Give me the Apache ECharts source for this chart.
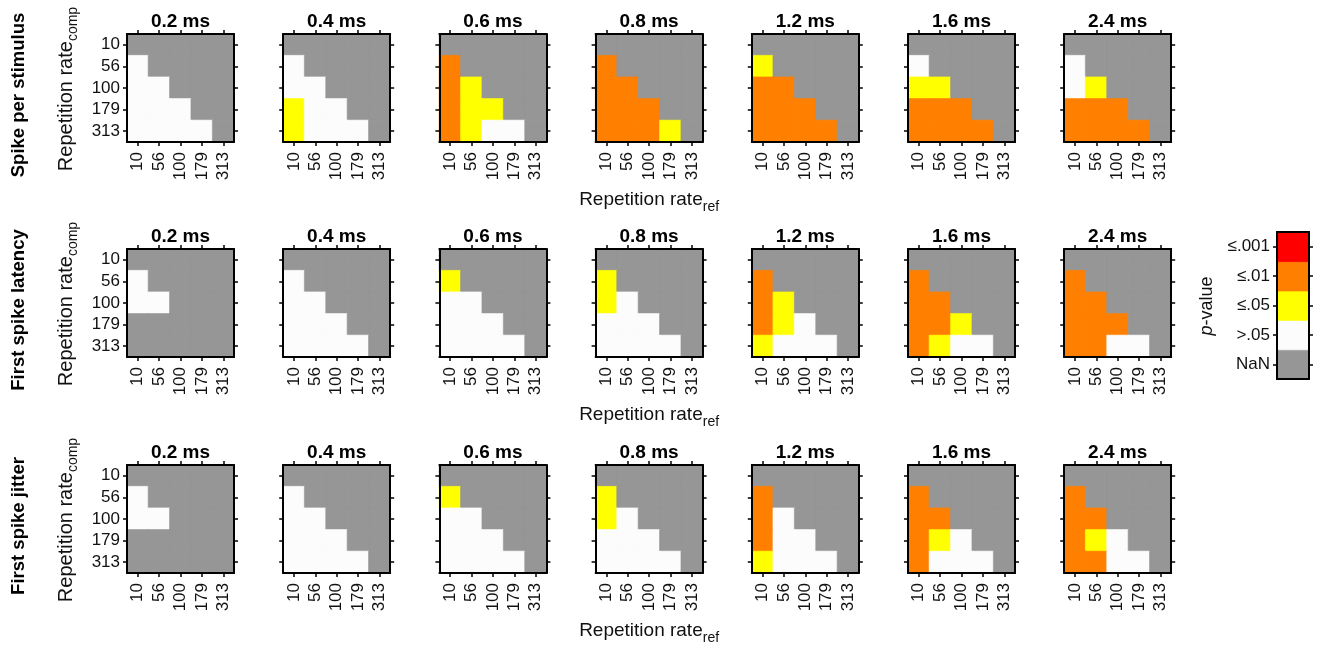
<!DOCTYPE html>
<html>
<head>
<meta charset="utf-8">
<script src="https://cdn.jsdelivr.net/npm/echarts@6/dist/echarts.min.js"></script>
<style>
  html, body { margin: 0; padding: 0; background: #fff; }
  #chart { width: 1318px; height: 647px; }
</style>
</head>
<body>
<div id="chart"></div>
<script>
const rates = ['10', '56', '100', '179', '313']
const durations = ['0.2 ms', '0.4 ms', '0.6 ms', '0.8 ms', '1.2 ms', '1.6 ms', '2.4 ms']
const measures = ['Spike per stimulus', 'First spike latency', 'First spike jitter']
// p-value class: 0 NaN, 1 >.05, 2 ≤.05, 3 ≤.01, 4 ≤.001
const pLevels = ['NaN', '>.05', '≤.05', '≤.01', '≤.001']
const pColors = ['#969696', '#fcfcfc', '#ffff00', '#ff8000', '#ff0000']

// each matrix: rows = rate comp (10 at top), cols = rate ref (10 at left)
const spikePerStimulus = [
  [[0,0,0,0,0],[1,0,0,0,0],[1,1,0,0,0],[1,1,1,0,0],[1,1,1,1,0]],
  [[0,0,0,0,0],[1,0,0,0,0],[1,1,0,0,0],[2,1,1,0,0],[2,1,1,1,0]],
  [[0,0,0,0,0],[3,0,0,0,0],[3,2,0,0,0],[3,2,2,0,0],[3,2,1,1,0]],
  [[0,0,0,0,0],[3,0,0,0,0],[3,3,0,0,0],[3,3,3,0,0],[3,3,3,2,0]],
  [[0,0,0,0,0],[2,0,0,0,0],[3,3,0,0,0],[3,3,3,0,0],[3,3,3,3,0]],
  [[0,0,0,0,0],[1,0,0,0,0],[2,2,0,0,0],[3,3,3,0,0],[3,3,3,3,0]],
  [[0,0,0,0,0],[1,0,0,0,0],[1,2,0,0,0],[3,3,3,0,0],[3,3,3,3,0]]
]
const firstSpikeLatency = [
  [[0,0,0,0,0],[1,0,0,0,0],[1,1,0,0,0],[0,0,0,0,0],[0,0,0,0,0]],
  [[0,0,0,0,0],[1,0,0,0,0],[1,1,0,0,0],[1,1,1,0,0],[1,1,1,1,0]],
  [[0,0,0,0,0],[2,0,0,0,0],[1,1,0,0,0],[1,1,1,0,0],[1,1,1,1,0]],
  [[0,0,0,0,0],[2,0,0,0,0],[2,1,0,0,0],[1,1,1,0,0],[1,1,1,1,0]],
  [[0,0,0,0,0],[3,0,0,0,0],[3,2,0,0,0],[3,2,1,0,0],[2,1,1,1,0]],
  [[0,0,0,0,0],[3,0,0,0,0],[3,3,0,0,0],[3,3,2,0,0],[3,2,1,1,0]],
  [[0,0,0,0,0],[3,0,0,0,0],[3,3,0,0,0],[3,3,3,0,0],[3,3,1,1,0]]
]
const firstSpikeJitter = [
  [[0,0,0,0,0],[1,0,0,0,0],[1,1,0,0,0],[0,0,0,0,0],[0,0,0,0,0]],
  [[0,0,0,0,0],[1,0,0,0,0],[1,1,0,0,0],[1,1,1,0,0],[1,1,1,1,0]],
  [[0,0,0,0,0],[2,0,0,0,0],[1,1,0,0,0],[1,1,1,0,0],[1,1,1,1,0]],
  [[0,0,0,0,0],[2,0,0,0,0],[2,1,0,0,0],[1,1,1,0,0],[1,1,1,1,0]],
  [[0,0,0,0,0],[3,0,0,0,0],[3,1,0,0,0],[3,1,1,0,0],[2,1,1,1,0]],
  [[0,0,0,0,0],[3,0,0,0,0],[3,3,0,0,0],[3,2,1,0,0],[3,1,1,1,0]],
  [[0,0,0,0,0],[3,0,0,0,0],[3,3,0,0,0],[3,2,1,0,0],[3,3,1,1,0]]
]

const FONT = '"Liberation Sans", Arial, sans-serif'
const allData = [spikePerStimulus, firstSpikeLatency, firstSpikeJitter]
const colX = c => 127 + c * 156.2
const rowY = [34, 249, 465]
const cellW = 107
const cellH = 108

const axisLine = { show: true, onZero: false, lineStyle: { color: '#000', width: 2 } }
const tick = { show: true, alignWithLabel: true, length: 4, lineStyle: { color: '#000', width: 1.5 } }
const labelStyle = { fontSize: 17, fontFamily: FONT, color: '#111' }

// one heatmap cell, filled with the colour of its p-value class
const cell = (x, y, v) => ({
  value: [x, y, v],
  itemStyle: { color: pColors[v], borderColor: pColors[v], borderWidth: 0.6 }
})

const grids = []
const xAxis = []
const yAxis = []
const series = []
const titles = []

allData.forEach((panels, r) => {
  panels.forEach((m, c) => {
    const gi = grids.length
    grids.push({ left: colX(c), top: rowY[r], width: cellW, height: cellH, outerBoundsMode: 'none' })
    ;['bottom', 'top'].forEach(pos => xAxis.push({
      gridIndex: gi, type: 'category', data: rates, position: pos, z: 5,
      axisLine, axisTick: tick, splitLine: { show: false },
      axisLabel: { show: pos === 'bottom', rotate: 90, interval: 0, margin: 10, ...labelStyle }
    }))
    ;['left', 'right'].forEach(pos => yAxis.push({
      gridIndex: gi, type: 'category', data: rates, position: pos, inverse: true, z: 5,
      axisLine, axisTick: tick, splitLine: { show: false },
      axisLabel: { show: pos === 'left' && c === 0, interval: 0, margin: 7, ...labelStyle }
    }))
    const data = []
    m.forEach((row, yi) => row.forEach((v, xi) => data.push(cell(xi, yi, v))))
    series.push({
      type: 'heatmap', xAxisIndex: 2 * gi, yAxisIndex: 2 * gi, data,
      silent: true, emphasis: { disabled: true }
    })
    titles.push({
      text: durations[c], left: colX(c) + cellW / 2, top: rowY[r] - 22, textAlign: 'center', padding: 0,
      textStyle: { fontSize: 19, fontWeight: 'bold', color: '#000', fontFamily: FONT }
    })
  })
})

// colour bar
const cb = grids.length
grids.push({ left: 1277, top: 232, width: 32, height: 147, outerBoundsMode: 'none' })
;['bottom', 'top'].forEach(pos => xAxis.push({
  gridIndex: cb, type: 'category', data: ['p'], position: pos, z: 5,
  axisLine, axisTick: { show: false }, axisLabel: { show: false }, splitLine: { show: false }
}))
;['left', 'right'].forEach(pos => yAxis.push({
  gridIndex: cb, type: 'category', data: pLevels, position: pos, z: 5,
  axisLine, axisTick: tick, splitLine: { show: false },
  axisLabel: { show: pos === 'left', interval: 0, margin: 7, ...labelStyle }
}))
series.push({
  type: 'heatmap', xAxisIndex: 2 * cb, yAxisIndex: 2 * cb,
  data: pLevels.map((l, i) => cell(0, i, i)), silent: true, emphasis: { disabled: true }
})

const nameRich = size => ({
  a: { fontSize: size, fontFamily: FONT, fill: '#111', color: '#111' },
  b: { fontSize: 14, fontFamily: FONT, fill: '#111', color: '#111', padding: [15, 0, 0, 0] }
})
const graphic = []
measures.forEach((name, r) => {
  const cy = rowY[r] + cellH / 2
  graphic.push({
    type: 'text', x: 19, y: cy + 7, rotation: Math.PI / 2,
    style: { text: name, fontSize: 18.5, fontWeight: 'bold', fontFamily: FONT, fill: '#000', align: 'center', verticalAlign: 'middle' }
  })
  graphic.push({
    type: 'text', x: 66, y: cy + 1, rotation: Math.PI / 2,
    style: { text: '{a|Repetition rate}{b|comp}', rich: nameRich(20), align: 'center', verticalAlign: 'middle' }
  })
  graphic.push({
    type: 'text', x: colX(3) + cellW / 2, y: rowY[r] + cellH + 58,
    style: { text: '{a|Repetition rate}{b|ref}', rich: nameRich(19), align: 'center', verticalAlign: 'middle' }
  })
})
graphic.push({
  type: 'text', x: 1207, y: 306, rotation: Math.PI / 2,
  style: {
    text: '{i|p}{a|-value}', align: 'center', verticalAlign: 'middle',
    rich: {
      i: { fontSize: 18, fontStyle: 'italic', fontFamily: FONT, fill: '#111' },
      a: { fontSize: 18, fontFamily: FONT, fill: '#111' }
    }
  }
})

const chart = echarts.init(document.getElementById('chart'))
chart.setOption({
  backgroundColor: '#fff',
  animation: false,
  title: titles,
  grid: grids,
  xAxis,
  yAxis,
  series,
  graphic
})
</script>
</body>
</html>
